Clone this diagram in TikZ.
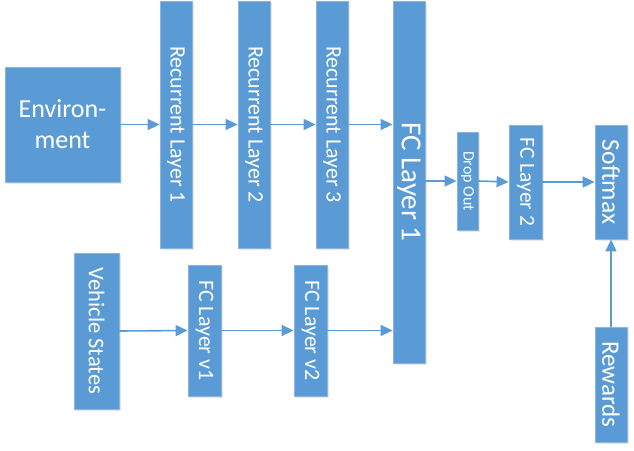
\documentclass[tikz,border=0pt]{standalone}
\usepackage{fontspec}
\setmainfont{Carlito}
\usetikzlibrary{arrows.meta,shadows}
\definecolor{boxblue}{HTML}{5B9BD5}
\definecolor{boxedge}{HTML}{8DB4E0}
\tikzset{
  layerbox/.style={rectangle, fill=boxblue, draw=boxedge, line width=0.8pt, inner sep=0pt,
    drop shadow={opacity=0.18, shadow xshift=1.5pt, shadow yshift=-1.5pt}},
  vtext/.style={rotate=-90, text=white, inner sep=0pt},
  flow/.style={draw=boxblue, line width=1.6pt, -{Triangle[length=12pt,width=11pt]}}
}
\newcommand{\fs}[1]{\fontsize{#1}{#1}\selectfont}
\begin{document}
\begin{tikzpicture}[x=1pt,y=-1pt]
\useasboundingbox (0,0) rectangle (634,450);
% boxes
\node[layerbox, minimum width=115pt, minimum height=115pt, text=white, align=center,
      font=\fontsize{26}{31}\selectfont] (env) at (62.5,124.5) {Environ-\\ment};
\node[layerbox, minimum width=32pt, minimum height=247pt] (r1) at (176,124.5) {};
\node[layerbox, minimum width=32pt, minimum height=247pt] (r2) at (254,124.5) {};
\node[layerbox, minimum width=32pt, minimum height=247pt] (r3) at (332,124.5) {};
\node[layerbox, minimum width=32pt, minimum height=362pt] (fc1) at (409,182) {};
\node[layerbox, minimum width=21pt, minimum height=98pt] (drop) at (467.5,181) {};
\node[layerbox, minimum width=33pt, minimum height=114pt] (fc2) at (525.5,182) {};
\node[layerbox, minimum width=32pt, minimum height=114pt] (soft) at (611,182) {};
\node[layerbox, minimum width=45pt, minimum height=156pt] (veh) at (96.5,331) {};
\node[layerbox, minimum width=33pt, minimum height=131pt] (v1) at (204.5,330.5) {};
\node[layerbox, minimum width=33pt, minimum height=131pt] (v2) at (310.5,330.5) {};
\node[layerbox, minimum width=32pt, minimum height=115pt] (rew) at (611,384.5) {};
% labels
\node[vtext, font=\fs{22}] (r1t) at (r1.center) {Recurrent Layer 1};
\node[vtext, font=\fs{22}] (r2t) at (r2.center) {Recurrent Layer 2};
\node[vtext, font=\fs{22}] (r3t) at (r3.center) {Recurrent Layer 3};
\node[vtext, font=\fs{29}] (fc1t) at (fc1.center) {FC Layer 1};
\node[vtext, font=\fs{16}] (dropt) at (drop.center) {Drop Out};
\node[vtext, font=\fs{21.5}] (fc2t) at (fc2.center) {FC Layer 2};
\node[vtext, font=\fs{25.5}] (softt) at (soft.center) {Softmax};
\node[vtext, font=\fs{22.5}] (veht) at (veh.center) {Vehicle States};
\node[vtext, font=\fs{22}] (v1t) at (v1.center) {FC Layer v1};
\node[vtext, font=\fs{22}] (v2t) at (v2.center) {FC Layer v2};
\node[vtext, font=\fs{25}] (rewt) at (rew.center) {Rewards};
% connectors
\draw[flow] (env.east) -- (r1.west);
\draw[flow] (r1.east) -- (r2.west);
\draw[flow] (r2.east) -- (r3.west);
\draw[flow] (r3.east) -- (r3.east -| fc1.west);
\draw[flow] (fc1.east |- drop.west) -- (drop.west);
\draw[flow] (drop.east) -- (fc2.west);
\draw[flow] (fc2.east) -- (soft.west);
\draw[flow] (veh.east) -- (v1.west);
\draw[flow] (v1.east) -- (v2.west);
\draw[flow] (v2.east) -- (v2.east -| fc1.west);
\draw[flow] (rew.north) -- (soft.south);
\end{tikzpicture}
\end{document}
